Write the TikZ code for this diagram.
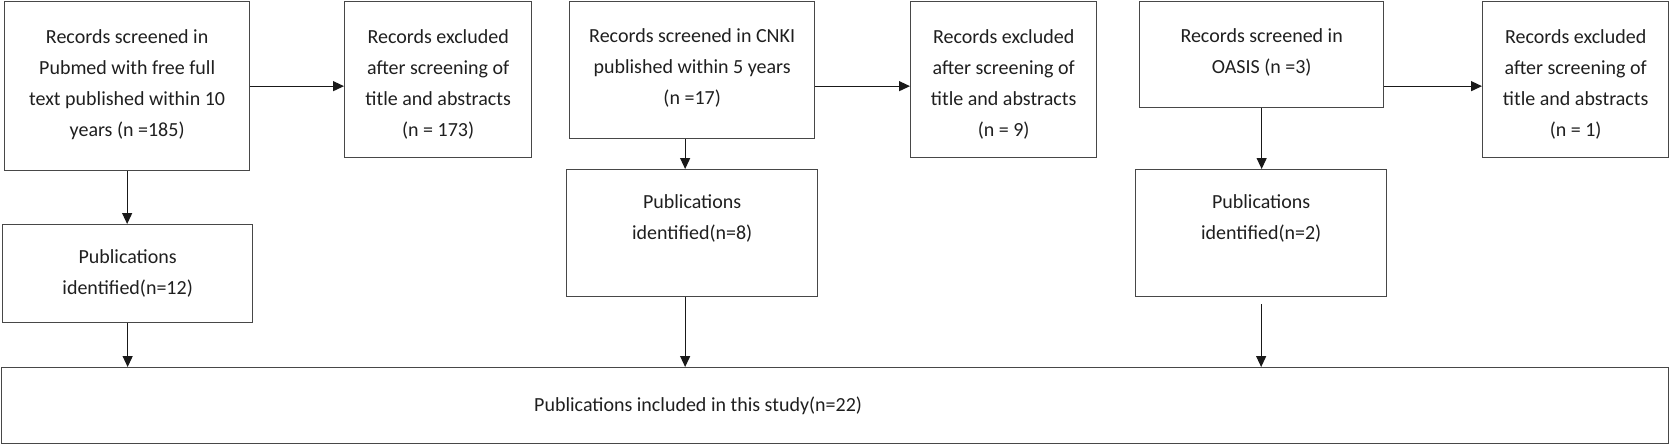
\documentclass[tikz,border=0pt]{standalone}
\usepackage{fontspec}
\setmainfont{Carlito}
\usetikzlibrary{arrows.meta}
\newcommand{\fst}{\rule{0pt}{15pt}}
\begin{document}
\begin{tikzpicture}[x=1pt,y=-1pt,
  boxx/.style={draw=black!72, line width=1.3pt, anchor=north west, inner sep=0pt},
  txt/.style={anchor=north, inner sep=0pt, align=center, text=black!88,
    font=\fontsize{20}{31}\selectfont},
  conn/.style={draw=black!90, line width=1.2pt, -{Triangle[length=11pt,width=10pt]}}]
\useasboundingbox (0,0) rectangle (1670,445);
% boxes
\node[boxx, minimum width=245pt, minimum height=169pt] (A) at (4,1) {};
\node[boxx, minimum width=187pt, minimum height=156pt] (B) at (344,1) {};
\node[boxx, minimum width=250pt, minimum height=98pt] (C) at (2,224) {};
\node[boxx, minimum width=245pt, minimum height=137pt] (D) at (569,1) {};
\node[boxx, minimum width=186pt, minimum height=156pt] (E) at (910,1) {};
\node[boxx, minimum width=251pt, minimum height=127pt] (F) at (566,169) {};
\node[boxx, minimum width=244pt, minimum height=106pt] (G) at (1139,1) {};
\node[boxx, minimum width=186pt, minimum height=156pt] (H) at (1482,1) {};
\node[boxx, minimum width=251pt, minimum height=127pt] (I) at (1135,169) {};
\node[boxx, minimum width=1667pt, minimum height=76pt] (J) at (1,367) {};
% texts
\node[txt] (At) at ([yshift=-27pt]A.north) {\fst Records screened in\\Pubmed with free full\\text published within 10\\years (n =185)};
\node[txt] (Bt) at ([yshift=-27pt]B.north) {\fst Records excluded\\after screening of\\title and abstracts\\(n = 173)};
\node[txt] (Ct) at ([yshift=-24pt]C.north) {\fst Publications\\identified(n=12)};
\node[txt] (Dt) at ([yshift=-26pt]D.north) {\fst Records screened in CNKI\\published within 5 years\\(n =17)};
\node[txt] (Et) at ([yshift=-27pt]E.north) {\fst Records excluded\\after screening of\\title and abstracts\\(n = 9)};
\node[txt] (Ft) at ([yshift=-24pt]F.north) {\fst Publications\\identified(n=8)};
\node[txt] (Gt) at ([yshift=-26pt]G.north) {\fst Records screened in\\OASIS (n =3)};
\node[txt] (Ht) at ([yshift=-27pt]H.north) {\fst Records excluded\\after screening of\\title and abstracts\\(n = 1)};
\node[txt] (It) at ([yshift=-24pt]I.north) {\fst Publications\\identified(n=2)};
\node[anchor=base, inner sep=0pt, text=black!88, font=\fontsize{20}{31}\selectfont] (Jt)
  at ([xshift=-137pt]J.center |- 0,411) {Publications included in this study(n=22)};
% connectors
\draw[conn] (A.east) -- (A.east -| B.west);
\draw[conn] (D.east |- A.east) -- (E.west |- A.east);
\draw[conn] (G.east |- A.east) -- (H.west |- A.east);
\draw[conn] (A.south) -- (A.south |- C.north);
\draw[conn] ([xshift=-7pt]D.south) -- ([xshift=-7pt]D.south |- F.north);
\draw[conn] (G.south) -- (G.south |- I.north);
\draw[conn] (C.south) -- (C.south |- J.north);
\draw[conn] ([xshift=-7pt]F.south) -- ([xshift=-7pt]F.south |- J.north);
\coordinate (Iout) at ([yshift=-7pt]I.south);
\draw[conn] (Iout) -- (Iout |- J.north);
\end{tikzpicture}
\end{document}
